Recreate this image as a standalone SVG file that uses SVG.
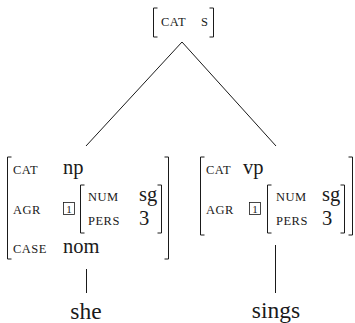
<svg xmlns="http://www.w3.org/2000/svg" width="355" height="323" viewBox="0 0 355 323">
  <style>
    .br { fill: none; stroke: #1a1a1a; stroke-width: 1; }
    .ln { fill: none; stroke: #1a1a1a; stroke-width: 1; }
    .sc { font-family: "Liberation Serif", "Times New Roman", serif; font-size: 12.5px; letter-spacing: 0.5px; fill: #1a1a1a; }
    .v  { font-family: "Liberation Serif", "Times New Roman", serif; font-size: 20.5px; fill: #1a1a1a; }
    .w  { font-family: "Liberation Serif", "Times New Roman", serif; font-size: 23.5px; fill: #1a1a1a; text-anchor: middle; }
    .tag { font-family: "Liberation Serif", "Times New Roman", serif; font-size: 11px; fill: #1a1a1a; text-anchor: middle; }
    .box { fill: none; stroke: #1a1a1a; stroke-width: 0.8; }
  </style>

  <!-- tree edges -->
  <g id="connectors">
    <line class="ln" x1="182" y1="42" x2="86" y2="146"/>
    <line class="ln" x1="182" y1="42" x2="276" y2="146"/>
    <line class="ln" x1="86.5" y1="269" x2="86.5" y2="293"/>
    <line class="ln" x1="275.5" y1="245" x2="275.5" y2="293"/>
  </g>

  <!-- root: [cat s] -->
  <g id="node-s">
    <path class="br" d="M157.5 8 H153.5 V37 H157.5"/>
    <path class="br" d="M209.5 8 H213.5 V37 H209.5"/>
    <text class="sc" x="161" y="26">CAT</text>
    <text class="sc" x="201" y="26">S</text>
  </g>

  <!-- left daughter: np -->
  <g id="node-np">
    <path class="br" d="M11.5 157 H7.5 V259 H11.5"/>
    <path class="br" d="M164.5 157 H168.5 V259 H164.5"/>
    <text class="sc" x="13" y="174">CAT</text>
    <text class="v" x="63" y="174">np</text>
    <text class="sc" x="13" y="214">AGR</text>
    <rect class="box" x="63.5" y="202.5" width="11" height="12"/>
    <text class="tag" x="69" y="212.5">1</text>
    <path class="br" d="M84.5 185 H80.5 V233 H84.5"/>
    <path class="br" d="M157.5 185 H161.5 V233 H157.5"/>
    <text class="sc" x="88" y="201">NUM</text>
    <text class="v" x="139" y="201">sg</text>
    <text class="sc" x="88" y="225">PERS</text>
    <text class="v" x="139" y="225">3</text>
    <text class="sc" x="13" y="253">CASE</text>
    <text class="v" x="63" y="253">nom</text>
  </g>

  <!-- right daughter: vp -->
  <g id="node-vp">
    <path class="br" d="M204.5 157 H200.5 V235 H204.5"/>
    <path class="br" d="M348.5 157 H352.5 V235 H348.5"/>
    <text class="sc" x="206" y="174">CAT</text>
    <text class="v" x="243" y="174">vp</text>
    <text class="sc" x="206" y="214">AGR</text>
    <rect class="box" x="249.5" y="202.5" width="11" height="12"/>
    <text class="tag" x="255" y="212.5">1</text>
    <path class="br" d="M271.5 185 H267.5 V233 H271.5"/>
    <path class="br" d="M340.5 185 H344.5 V233 H340.5"/>
    <text class="sc" x="276" y="201">NUM</text>
    <text class="v" x="322" y="201">sg</text>
    <text class="sc" x="276" y="225">PERS</text>
    <text class="v" x="322" y="225">3</text>
  </g>

  <!-- leaves -->
  <g id="leaf-she">
    <text class="w" x="86" y="319">she</text>
  </g>
  <g id="leaf-sings">
    <text class="w" x="276" y="318">sings</text>
  </g>
</svg>
